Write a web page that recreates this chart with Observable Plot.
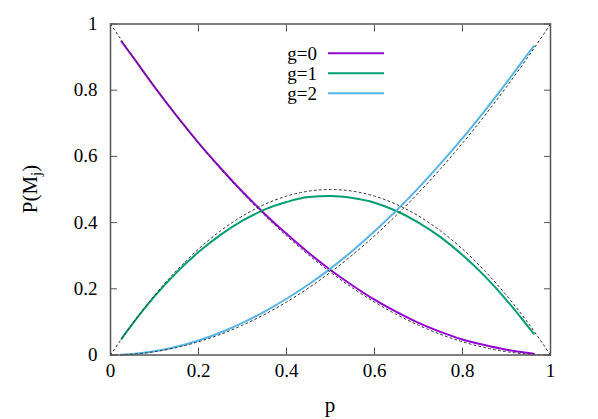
<!DOCTYPE html>
<html><head><meta charset="utf-8">
<script src="https://cdn.jsdelivr.net/npm/d3@7"></script>
<script src="https://cdn.jsdelivr.net/npm/@observablehq/plot@0.6"></script>
<style>
body{margin:0;background:#fff;}
#chart{position:relative;width:598px;height:419px;}
</style>
</head><body><div id="chart"></div>
<script>
// simulated series (coloured lines)
const pSim = [0.025,0.05,0.1,0.15,0.2,0.25,0.3,0.35,0.4,0.45,0.5,0.55,0.6,0.65,0.7,0.75,0.8,0.85,0.9,0.95,0.962];
const g0 = [0.947,0.902,0.81,0.723,0.641,0.565,0.493,0.427,0.366,0.309,0.257,0.21,0.167,0.13,0.097,0.07,0.047,0.03,0.016,0.006,0.004];
const g1 = [0.049,0.094,0.177,0.249,0.311,0.363,0.406,0.439,0.462,0.477,0.480,0.474,0.46,0.435,0.40,0.356,0.302,0.239,0.166,0.084,0.064];
const g2 = [0.001,0.003,0.011,0.025,0.044,0.068,0.097,0.131,0.17,0.213,0.261,0.315,0.374,0.437,0.505,0.578,0.655,0.737,0.823,0.912,0.933];
// reference (dashed) curves
const pRef = [0,0.05,0.1,0.15,0.2,0.25,0.3,0.35,0.4,0.45,0.5,0.55,0.6,0.65,0.7,0.75,0.8,0.85,0.9,0.95,1];
const r0 = [1,0.9025,0.81,0.7225,0.64,0.5625,0.49,0.4225,0.36,0.3025,0.25,0.2025,0.16,0.1225,0.09,0.0625,0.04,0.0225,0.01,0.0025,0];
const r1 = [0,0.095,0.18,0.255,0.32,0.375,0.42,0.455,0.48,0.495,0.5,0.495,0.48,0.455,0.42,0.375,0.32,0.255,0.18,0.095,0];
const r2 = [0,0.0025,0.01,0.0225,0.04,0.0625,0.09,0.1225,0.16,0.2025,0.25,0.3025,0.36,0.4225,0.49,0.5625,0.64,0.7225,0.81,0.9025,1];
const seriesNames = ["g=0","g=1","g=2"];
const seriesColors = ["#9400d3","#009e73","#56b4e9"];
const xTicks = [0,0.2,0.4,0.6,0.8,1];
const xTickLabels = ["0","0.2","0.4","0.6","0.8","1"];
const yTicks = [0,0.2,0.4,0.6,0.8,1];
const yTickLabels = ["0","0.2","0.4","0.6","0.8","1"];
const xLabel = "p";

const simSeries = [g0,g1,g2];
const refSeries = [r0,r1,r2];
const sim = simSeries.flatMap((vals,k)=>vals.map((v,i)=>({p:pSim[i], v, g:seriesNames[k]})));
const ref = refSeries.flatMap((vals,k)=>vals.map((v,i)=>({p:pRef[i], v, g:seriesNames[k]})));

const font = '"Liberation Serif", "Times New Roman", serif';
const axisColor = "#555";
const chart = Plot.plot({
  width:598, height:419,
  marginLeft:110, marginRight:48, marginTop:23.5, marginBottom:64.5,
  style:{fontFamily:font, fontSize:"19px", background:"#fff", color:"#000"},
  x:{domain:[0,1]},
  y:{domain:[0,1]},
  color:{domain:seriesNames, range:seriesColors},
  marks:[
    Plot.line(sim, {x:"p", y:"v", z:"g", stroke:"g", strokeWidth:2, curve:"monotone-x"}),
    Plot.line(ref, {x:"p", y:"v", z:"g", stroke:"#333", strokeWidth:1, strokeDasharray:"2,3", curve:"monotone-x"}),
    Plot.frame({stroke:axisColor, strokeWidth:1.5}),
    Plot.axisX(xTicks, {anchor:"bottom", tickSize:-7, tickPadding:15, stroke:axisColor, label:null, tickFormat:d=>xTickLabels[xTicks.indexOf(d)], fill:"#000"}),
    Plot.axisX(xTicks, {anchor:"top", tickSize:-7, stroke:axisColor, label:null, tickFormat:()=>""}),
    Plot.axisY(yTicks, {anchor:"left", tickSize:-7, tickPadding:20, stroke:axisColor, label:null, tickFormat:d=>yTickLabels[yTicks.indexOf(d)], fill:"#000"}),
    Plot.axisY(yTicks, {anchor:"right", tickSize:-7, stroke:axisColor, label:null, tickFormat:()=>""})
  ]
});
document.getElementById("chart").appendChild(chart);

const svg = d3.select(chart);
const xs = chart.scale("x"), ys = chart.scale("y");
const xMid = (xs.range[0]+xs.range[1])/2, yMid = (ys.range[0]+ys.range[1])/2;
// x axis title
svg.append("text").attr("x", xMid).attr("y", 412).attr("text-anchor","middle")
  .attr("font-family", font).attr("font-size", 21).attr("fill","#000").text(xLabel);
// y axis title P(M_j)
const yt = svg.append("text").attr("transform", `translate(37,${yMid}) rotate(-90)`).attr("text-anchor","middle")
  .attr("font-family", font).attr("font-size", 21).attr("fill","#000");
yt.append("tspan").text("P(M");
yt.append("tspan").attr("font-size", 15).attr("dy", 4).text("j");
yt.append("tspan").attr("dy", -4).text(")");

// legend (inside plot, top centre)
const lg = svg.append("g");
seriesNames.forEach((name,i)=>{
  const yy = 53.3 + i*20;
  lg.append("text").attr("x", 317).attr("y", yy).attr("dy","0.33em").attr("text-anchor","end")
    .attr("font-family", font).attr("font-size", 19).attr("fill","#000").text(name);
  lg.append("line").attr("x1", 328).attr("x2", 384).attr("y1", yy).attr("y2", yy)
    .attr("stroke", seriesColors[i]).attr("stroke-width", 2);
});
</script>
</body></html>
